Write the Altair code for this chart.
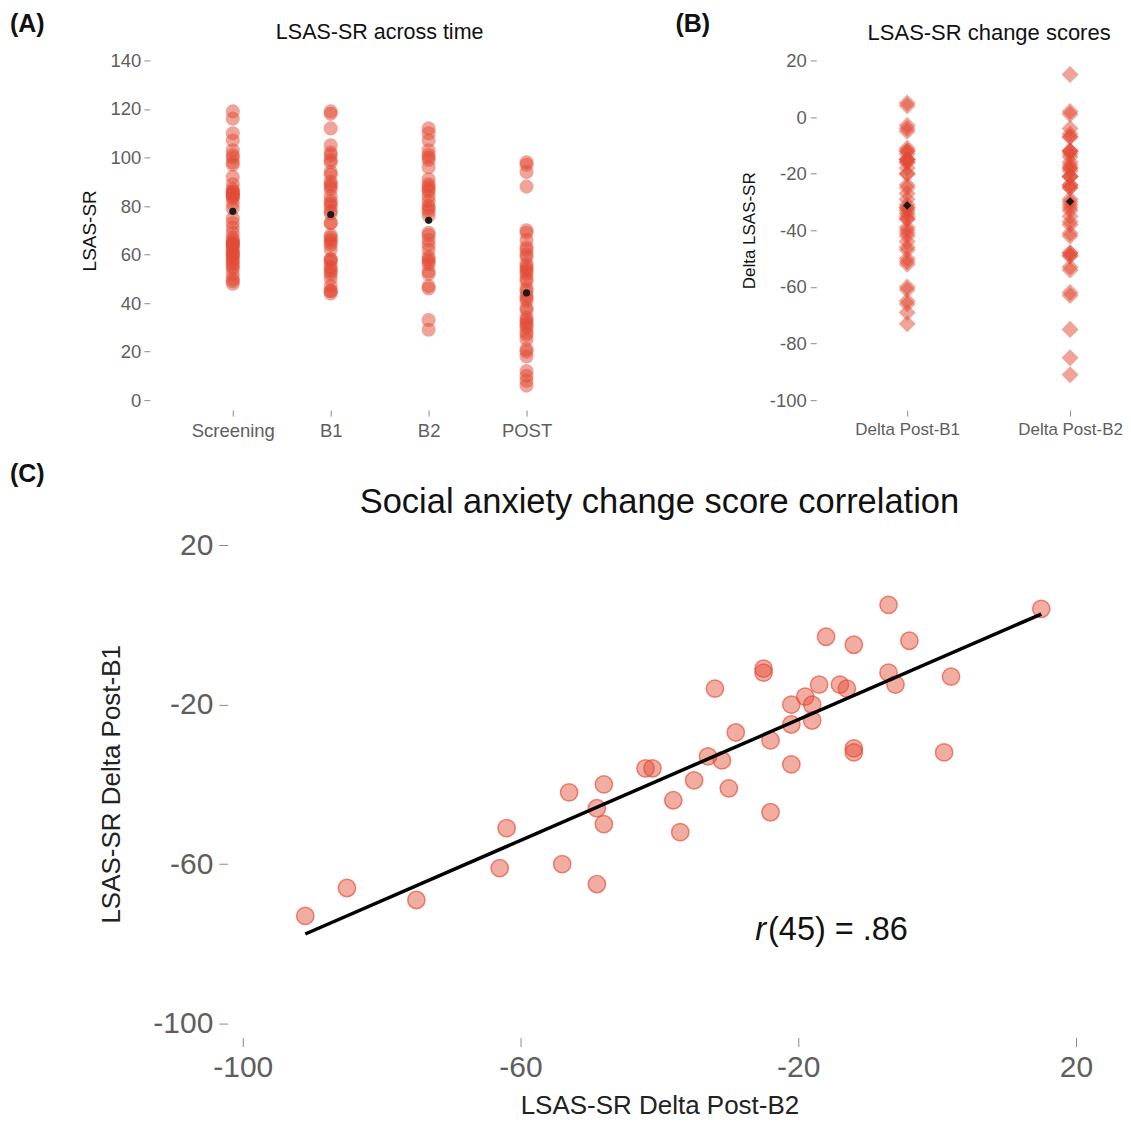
import altair as alt
import pandas as pd

# ---------------- data ----------------
time_points = ["Screening", "B1", "B2", "POST"]
lsas_screening = [119, 116, 110, 107, 103, 101, 100, 98, 97, 92, 89, 87, 86, 86, 85, 85, 84, 84, 83, 81,
                  79, 75, 73, 71, 69, 67, 66, 65, 65, 64, 64, 63, 62, 61, 60, 60, 59, 58, 57, 56,
                  55, 54, 52, 50, 49, 48]
lsas_b1 = [119, 118, 112, 105, 102, 101, 99, 98, 94, 93, 90, 89, 88, 87, 84, 82, 81, 80, 78, 77,
           73, 73, 68, 67, 66, 65, 64, 62, 58, 58, 57, 55, 54, 53, 52, 50, 47, 45, 45, 44]
lsas_b2 = [112, 110, 107, 103, 101, 100, 99, 96, 91, 89, 88, 87, 86, 84, 82, 80, 79, 78, 76,
           69, 68, 66, 64, 62, 59, 58, 57, 56, 53, 52, 47, 46, 33, 29]
lsas_post = [98, 97, 94, 88, 70, 69, 66, 63, 62, 60, 59, 56, 55, 54, 53, 52, 50, 49, 46, 45,
             43, 42, 41, 38, 37, 34, 33, 32, 31, 30, 28, 27, 25, 21, 20, 18, 12, 10, 8, 6]
lsas_means = [77.8, 76.5, 74.1, 44.2]

change_groups = ["Delta Post-B1", "Delta Post-B2"]
delta_post_b2 = [-91, -85, -75, -63, -62, -54, -53, -49, -49, -48, -48, -42, -41, -38, -37,
                 -35, -33, -32, -31, -30, -29, -25, -25, -24, -24, -21, -21, -21, -19, -18,
                 -18, -17, -16, -14, -13, -12, -12, -12, -7, -7, -6, -4, 1, 2, 15]
delta_post_b1 = [-73, -66, -69, -61, -51, -60, -42, -65, -46, -50, -40, -36, -36, -44, -52,
                 -39, -33, -16, -34, -41, -27, -11, -12, -29, -47, -35, -25, -20, -18, -20,
                 -24, -15, -3, -15, -16, -5, -31, -32, -12, 5, -15, -4, -32, -13, 4]

ticks_a = [0, 20, 40, 60, 80, 100, 120, 140]
ticks_b = [20, 0, -20, -40, -60, -80, -100]
ticks_c = [-100, -60, -20, 20]
r_value_text = "(45) = .86"

RED = "#E24A33"
FONT = "Liberation Sans"
LABEL_GREY = "#5e5e5e"
TICK_GREY = "#8a8a8a"
HYPHEN_LABEL = "'' + datum.value"

# ---------------- tables ----------------
series_a = [lsas_screening, lsas_b1, lsas_b2, lsas_post]
df_a = pd.DataFrame({
    "time": [t for t, vals in zip(time_points, series_a) for _ in vals],
    "score": [v for vals in series_a for v in vals],
})
df_a_mean = pd.DataFrame({"time": time_points, "score": lsas_means})

df_b = pd.DataFrame({
    "group": [change_groups[0]] * len(delta_post_b1) + [change_groups[1]] * len(delta_post_b2),
    "delta": delta_post_b1 + delta_post_b2,
})
df_c = pd.DataFrame({"b2": delta_post_b2, "b1": delta_post_b1})


def small_axis(**kw):
    base = dict(domain=False, grid=False, labelFont=FONT, labelFontSize=18.5, labelColor=LABEL_GREY,
                tickColor=TICK_GREY, tickSize=6, tickWidth=1, titleFont=FONT, titleFontWeight="normal",
                titleColor="#111111")
    base.update(kw)
    return alt.Axis(**base)


def tag(text, x, y, size=25):
    return alt.Chart(pd.DataFrame({"t": [text]})).mark_text(
        font=FONT, fontSize=size, fontWeight="bold", align="left", baseline="top", color="#111111"
    ).encode(text="t:N", x=alt.value(x), y=alt.value(y))


def head(text, x, y, size):
    return alt.Chart(pd.DataFrame({"t": [text]})).mark_text(
        font=FONT, fontSize=size, align="center", baseline="middle", color="#111111"
    ).encode(text="t:N", x=alt.value(x), y=alt.value(y))


# ---------------- panel A ----------------
WA, HA = 460, 360
xa = alt.X("time:N", sort=time_points,
           scale=alt.Scale(type="point", range=[83, 377], padding=0),
           axis=small_axis(title=None, labelAngle=0, labelPadding=5))
ya = alt.Y("score:Q", scale=alt.Scale(domain=[-4.12, 144.12], nice=False, zero=False),
           axis=small_axis(values=ticks_a, title="LSAS-SR", titleFontSize=19, titlePadding=11,
                           labelPadding=3, labelExpr=HYPHEN_LABEL))

pts_a = alt.Chart(df_a).mark_circle(size=200, color=RED, opacity=0.5).encode(x=xa, y=ya)
mean_a = alt.Chart(df_a_mean).mark_circle(size=50, color="#1b1b1b", opacity=1).encode(x=xa, y=ya)
panel_a = alt.layer(pts_a, mean_a, tag("(A)", -140, -38), head("LSAS-SR across time", 230, -17, 21.5)
                    ).properties(width=WA, height=HA)

# ---------------- panel B ----------------
WB, HB = 303, 360
xb = alt.X("group:N", sort=change_groups,
           scale=alt.Scale(type="point", range=[91, 254], padding=0),
           axis=small_axis(title=None, labelAngle=0, labelPadding=5, labelFontSize=17))
yb = alt.Y("delta:Q", scale=alt.Scale(domain=[-103.53, 23.53], nice=False, zero=False),
           axis=small_axis(values=ticks_b, title="Delta LSAS-SR", titleFontSize=17, titlePadding=11,
                           labelPadding=4, labelExpr=HYPHEN_LABEL))

pts_b = alt.Chart(df_b).mark_point(shape="diamond", filled=True, size=290, color=RED, opacity=0.5
                                   ).encode(x=xb, y=yb)
mean_b = alt.Chart(df_b).transform_aggregate(
    delta="mean(delta)", groupby=["group"]
).mark_point(shape="diamond", filled=True, size=70, color="#1b1b1b", opacity=1).encode(x=xb, y=yb)
panel_b = alt.layer(pts_b, mean_b, tag("(B)", -141, -38), head("LSAS-SR change scores", 173, -17, 22)
                    ).properties(width=WB, height=HB)

# ---------------- panel C ----------------
WC, HC = 970, 508
xc = alt.X("b2:Q", scale=alt.Scale(domain=[-113.38, 26.19], nice=False, zero=False),
           axis=alt.Axis(values=ticks_c, title="LSAS-SR Delta Post-B2", domain=False, grid=False,
                         labelExpr=HYPHEN_LABEL,
                         labelFont=FONT, labelFontSize=30, labelColor=LABEL_GREY, tickColor=TICK_GREY,
                         tickSize=9, labelPadding=6, titleFont=FONT, titleFontSize=26,
                         titleFontWeight="normal", titleColor="#222222", titlePadding=10, titleX=510))
yc = alt.Y("b1:Q", scale=alt.Scale(domain=[-103.5, 23.76], nice=False, zero=False),
           axis=alt.Axis(values=ticks_c, title="LSAS-SR Delta Post-B1", domain=False, grid=False,
                         offset=-78, labelExpr=HYPHEN_LABEL, labelFont=FONT, labelFontSize=30,
                         labelColor=LABEL_GREY, tickColor=TICK_GREY, tickSize=9, labelPadding=6,
                         titleFont=FONT, titleFontSize=26, titleFontWeight="normal",
                         titleColor="#222222", titlePadding=28))

pts_c = alt.Chart(df_c).mark_point(shape="circle", filled=True, size=300, fill=RED, fillOpacity=0.45,
                                   stroke=RED, strokeOpacity=0.65, strokeWidth=1.5).encode(x=xc, y=yc)
fit_c = alt.Chart(df_c).transform_regression("b2", "b1").mark_line(
    color="black", strokeWidth=3.5).encode(x=xc, y=yc)
r_italic = alt.Chart(pd.DataFrame({"t": ["r"]})).mark_text(
    font=FONT, fontSize=32.5, fontStyle="italic", align="right", baseline="alphabetic", dx=-1,
    color="#111111").encode(text="t:N", x=alt.datum(-24.5), y=alt.datum(-79))
r_rest = alt.Chart(pd.DataFrame({"t": [r_value_text]})).mark_text(
    font=FONT, fontSize=32.5, align="left", baseline="alphabetic", dx=1,
    color="#111111").encode(text="t:N", x=alt.datum(-24.5), y=alt.datum(-79))

panel_c = alt.layer(pts_c, fit_c, r_italic, r_rest, tag("(C)", -140, -68),
                    head("Social anxiety change score correlation", 510, -27, 34.5)
                    ).properties(width=WC, height=HC)

top = alt.hconcat(panel_a, panel_b, spacing=66)
chart = alt.vconcat(top, panel_c, spacing=22).properties(
    padding={"left": 2, "top": 4, "right": 0, "bottom": 0}
).configure_view(stroke=None)

chart.save("out.html", embed_options={"renderer": "svg", "actions": False})
